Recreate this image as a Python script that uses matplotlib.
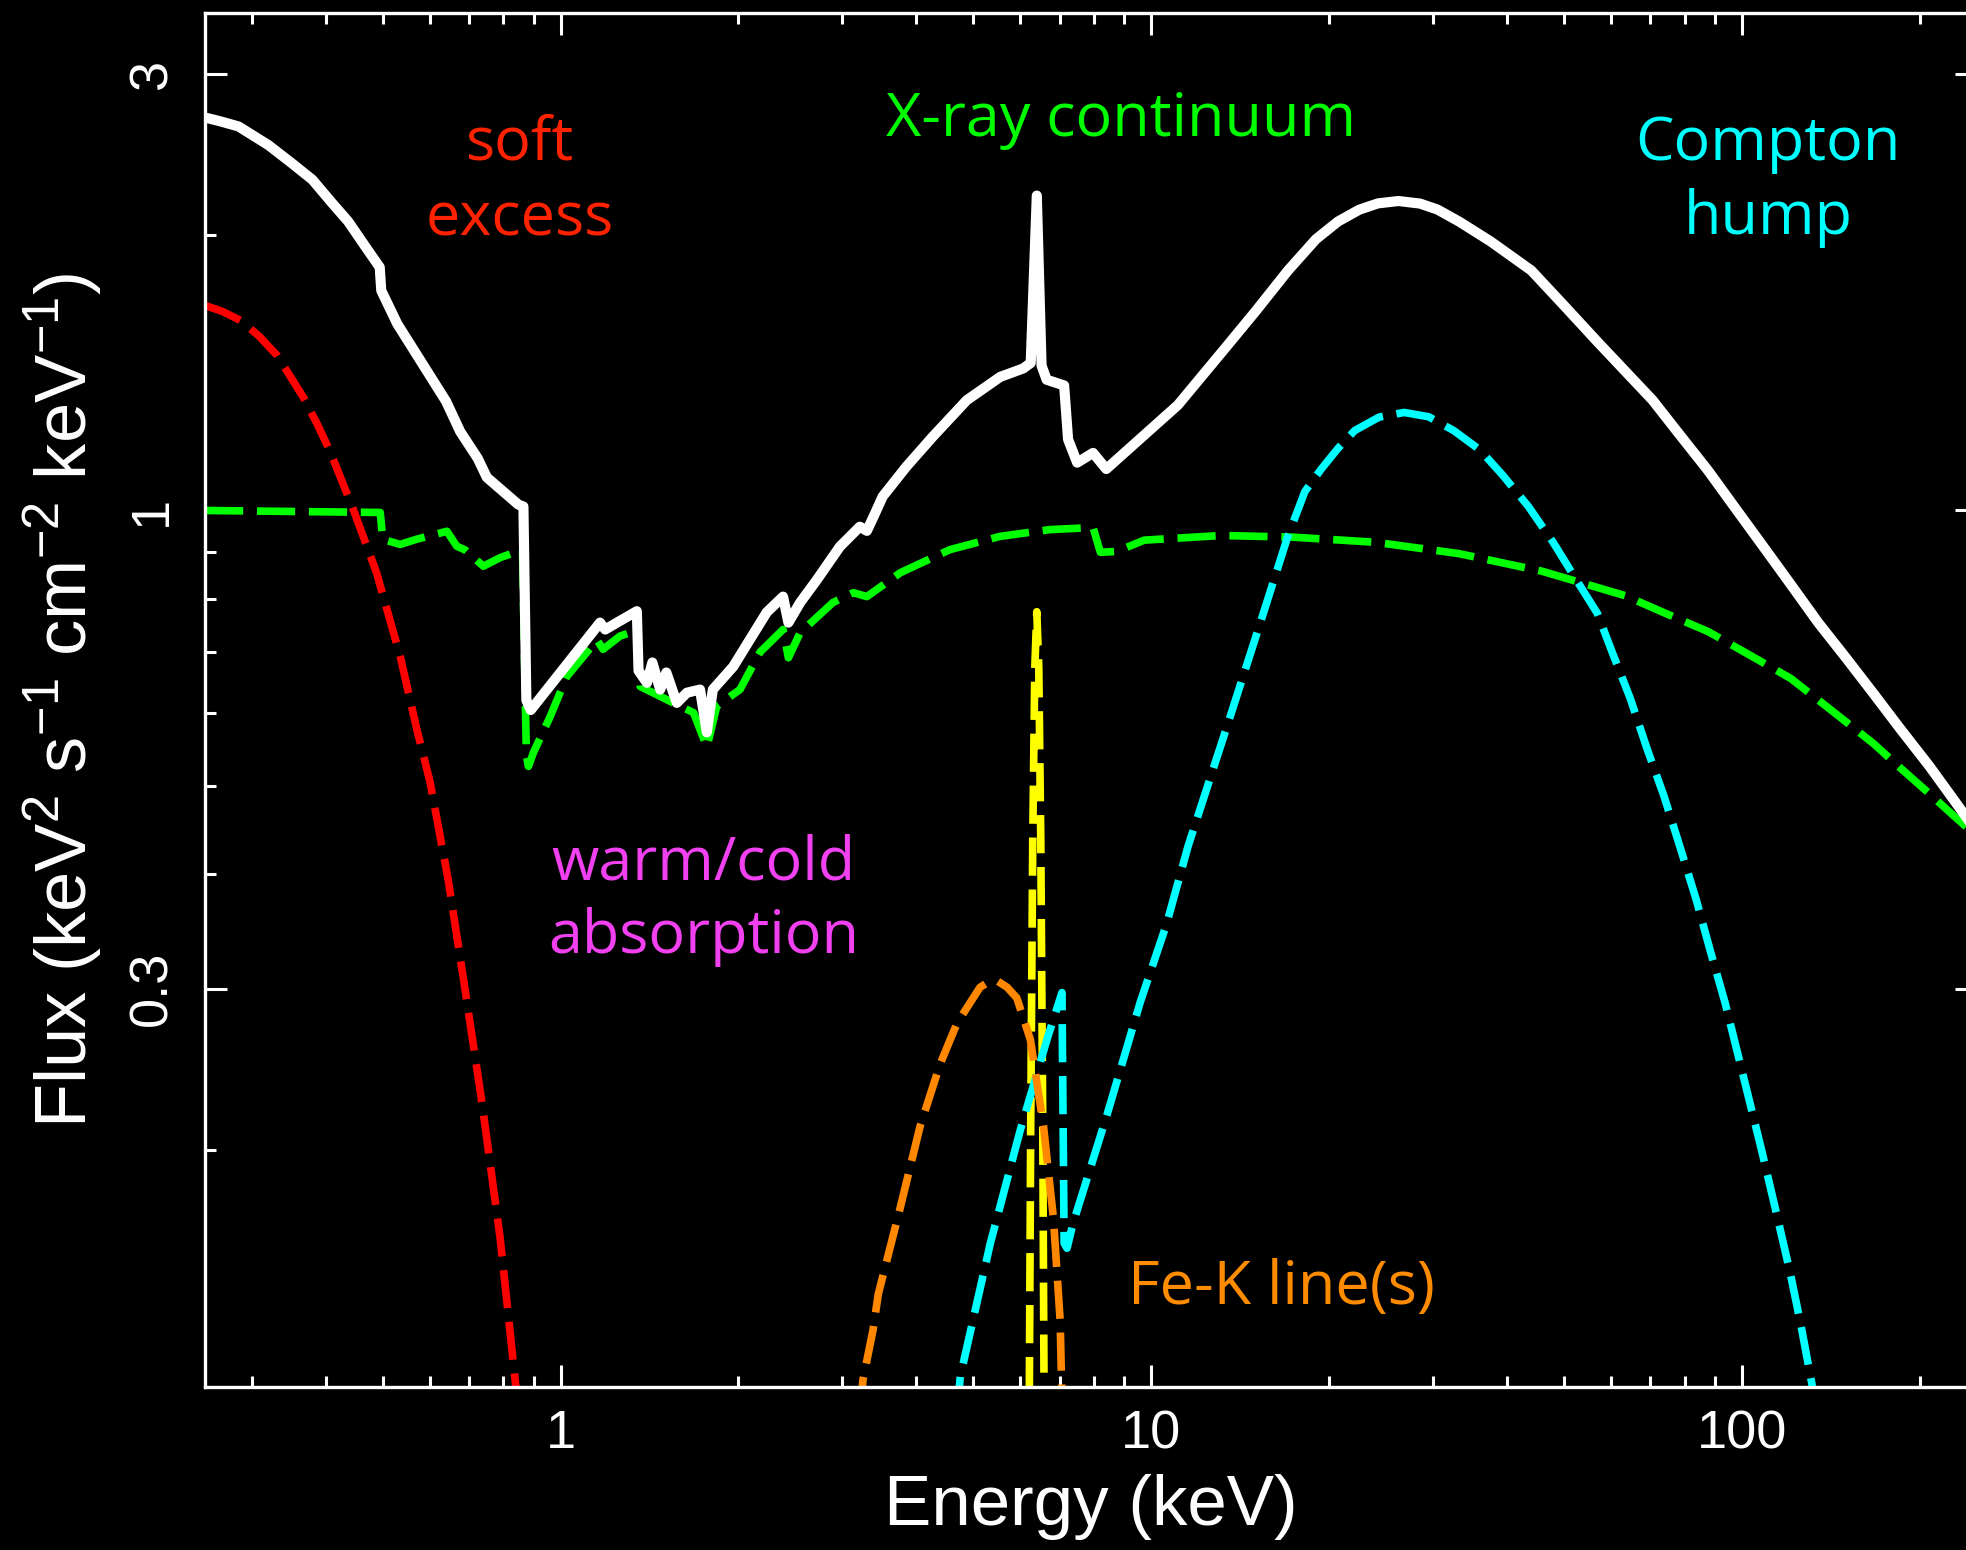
import numpy as np
import matplotlib
matplotlib.use('Agg')
import matplotlib.pyplot as plt
from matplotlib.ticker import LogLocator, NullFormatter

# total model (white)
total_e = [0.25, 0.265, 0.285, 0.30, 0.320, 0.35, 0.380, 0.41, 0.437, 0.465, 0.494, 0.497, 0.529,
           0.640, 0.676, 0.724, 0.750, 0.848, 0.865, 0.875, 0.890, 1.166, 1.19, 1.25, 1.346, 1.355,
           1.40, 1.43, 1.474, 1.51, 1.573, 1.636, 1.722, 1.768, 1.81, 1.96, 2.09, 2.234, 2.38, 2.43,
           2.544, 2.716, 2.97, 3.21, 3.30, 3.40, 3.51, 3.85, 4.27, 4.87, 5.55, 6.07, 6.25, 6.40, 6.52,
           6.65, 7.12, 7.23, 7.49, 7.97, 8.39, 11.09, 13.45, 15.0, 17.04, 19.0, 20.7, 22.5, 24.2, 26.2,
           28.5, 30.5, 33.2, 37.5, 44.0, 50.0, 56.9, 63.0, 70.6, 78.0, 87.6, 97.0, 108.7, 120.0,
           134.6, 150.0, 167.2, 185.0, 207.3, 225.0, 250.0]
total_f = [2.69, 2.665, 2.63, 2.576, 2.51, 2.40, 2.30, 2.17, 2.07, 1.952, 1.845, 1.74, 1.60,
           1.316, 1.22, 1.14, 1.087, 1.015, 1.01, 0.62, 0.605, 0.754, 0.741, 0.755, 0.776, 0.668,
           0.648, 0.682, 0.637, 0.665, 0.616, 0.632, 0.637, 0.572, 0.637, 0.675, 0.722, 0.774, 0.805, 0.754,
           0.793, 0.840, 0.913, 0.960, 0.950, 0.990, 1.036, 1.117, 1.205, 1.32, 1.40, 1.43, 1.45, 2.21, 1.44,
           1.39, 1.37, 1.196, 1.128, 1.156, 1.11, 1.304, 1.515, 1.65, 1.83, 1.98, 2.07, 2.133, 2.167, 2.18,
           2.166, 2.134, 2.07, 1.97, 1.83, 1.675, 1.53, 1.427, 1.32, 1.216, 1.106, 1.010, 0.913, 0.836,
           0.754, 0.690, 0.630, 0.578, 0.526, 0.489, 0.445]

# absorbed power-law continuum (green)
cont_e = [0.25, 0.495, 0.50, 0.535, 0.570, 0.642, 0.667, 0.69, 0.740, 0.790, 0.862, 0.875, 0.882,
          0.90, 0.960, 1.024, 1.092, 1.152, 1.18, 1.261, 1.311, 1.345, 1.364, 1.513, 1.679, 1.769,
          1.838, 2.012, 2.176, 2.38, 2.43, 2.544, 2.89, 3.13, 3.30, 3.76, 4.56, 5.55, 6.74, 7.97,
          8.2, 8.74, 9.73, 13.15, 17.4, 24.0, 33.2, 45.9, 54.0, 63.4, 74.5, 87.7, 103.0, 121.0,
          142.0, 167.0, 186.0, 207.0, 228.0, 250.0]
cont_f = [1.0, 0.995, 0.93, 0.918, 0.930, 0.949, 0.914, 0.905, 0.869, 0.888, 0.906, 0.54, 0.525,
          0.544, 0.595, 0.658, 0.692, 0.722, 0.705, 0.729, 0.735, 0.74, 0.642, 0.621, 0.601, 0.551,
          0.611, 0.637, 0.700, 0.741, 0.690, 0.735, 0.793, 0.813, 0.805, 0.855, 0.906, 0.937, 0.953, 0.958,
          0.900, 0.902, 0.928, 0.939, 0.935, 0.923, 0.897, 0.858, 0.832, 0.807, 0.771, 0.737, 0.695, 0.655,
          0.604, 0.556, 0.522, 0.491, 0.464, 0.44]

# soft excess (red)
soft_e = [0.25, 0.268, 0.288, 0.309, 0.331, 0.349, 0.367, 0.387, 0.407, 0.445, 0.488, 0.535, 0.571,
          0.601, 0.645, 0.686, 0.736, 0.790, 0.840, 0.86]
soft_f = [1.676, 1.65, 1.612, 1.55, 1.478, 1.40, 1.329, 1.244, 1.161, 1.005, 0.855, 0.693, 0.576,
          0.505, 0.395, 0.305, 0.225, 0.160, 0.110, 0.095]

# broad Fe-K line (orange)
broad_e = [3.15, 3.25, 3.38, 3.45, 3.76, 4.06, 4.39, 4.69, 5.13, 5.30, 5.48, 5.70, 5.92, 6.24, 6.57,
           6.83, 7.01, 7.10]
broad_f = [0.09, 0.112, 0.127, 0.139, 0.173, 0.212, 0.248, 0.275, 0.301, 0.305, 0.306, 0.301, 0.293,
           0.264, 0.212, 0.168, 0.130, 0.09]

# narrow Fe-K line (yellow)
narrow_e = [6.15, 6.20, 6.25, 6.30, 6.35, 6.40, 6.45, 6.50, 6.55, 6.60, 6.65]
narrow_f = [0.021, 0.078, 0.213, 0.436, 0.671, 0.775, 0.671, 0.436, 0.213, 0.078, 0.021]

# reflection / Compton hump (cyan)
refl_e = [4.6, 4.75, 5.34, 6.0, 6.66, 7.06, 7.12, 7.2, 7.37, 8.41, 9.58, 10.6, 11.55, 13.45,
          15.3, 17.0, 18.2, 19.4, 20.7, 22.1, 24.3, 26.8, 29.5, 32.5, 36.0, 39.4, 43.5, 47.9, 52.0,
          56.9, 60.5, 64.7, 69.0, 73.8, 78.6, 83.7, 88.5, 93.7, 100.0, 107.8, 114.0, 120.7, 126.0,
          131.3, 135.0]
refl_f = [0.09, 0.113, 0.158, 0.210, 0.264, 0.297, 0.158, 0.156, 0.166, 0.218, 0.29, 0.352, 0.430,
          0.582, 0.754, 0.934, 1.049, 1.11, 1.169, 1.223, 1.265, 1.28, 1.266, 1.223, 1.165, 1.092,
          1.01, 0.923, 0.847, 0.772, 0.696, 0.623, 0.550, 0.487, 0.428, 0.375, 0.329, 0.289, 0.244,
          0.2005, 0.172, 0.1466, 0.128, 0.111, 0.10]

xticks = [1, 10, 100]
xticklabels = ['1', '10', '100']
yticks = [0.3, 1, 3]
yticklabels = ['0.3', '1', '3']

# annotation text (label, colour, x px, baseline y px)
notes = [('soft', '#ff2200', 520, 160), ('excess', '#ff2200', 520, 235),
         ('X-ray continuum', '#00ff00', 1121, 136),
         ('Compton', '#00ffff', 1768, 160), ('hump', '#00ffff', 1768, 234),
         ('warm/cold', '#f040f0', 703, 880), ('absorption', '#f040f0', 704, 953),
         ('Fe-K line(s)', '#ff8c00', 1282, 1304)]

plt.rcParams['font.family'] = ['Liberation Sans', 'DejaVu Sans']
plt.rcParams['mathtext.fontset'] = 'custom'
plt.rcParams['mathtext.rm'] = 'Liberation Sans'
plt.rcParams['mathtext.it'] = 'Liberation Sans:italic'

W, H = 1966, 1550
fig = plt.figure(figsize=(W / 100, H / 100), dpi=100, facecolor='black')
ax = fig.add_axes([205 / W, 1 - 1387 / H, (1977 - 205) / W, (1387 - 13) / H])
ax.set_facecolor('black')
ax.set_xscale('log')
ax.set_yscale('log')

dash = (5, 1.8)
ax.plot(cont_e, cont_f, color='#00ff00', lw=5.5, dashes=dash)
ax.plot(soft_e, soft_f, color='#ff0000', lw=5.5, dashes=dash)
ax.plot(narrow_e, narrow_f, color='#ffff00', lw=5.5, dashes=dash)
ax.plot(refl_e, refl_f, color='#00ffff', lw=5.5, dashes=dash)
ax.plot(broad_e, broad_f, color='#ff8800', lw=5.5, dashes=dash)
ax.plot(total_e, total_f, color='white', lw=7.3, solid_joinstyle='round')

ax.set_xlim(0.25, 250)
ax.set_ylim(0.11, 3.5)

ax.set_xticks(xticks, labels=xticklabels)
ax.set_yticks(yticks, labels=yticklabels)
ax.xaxis.set_minor_locator(LogLocator(subs=np.arange(2, 10)))
ax.yaxis.set_minor_locator(LogLocator(subs=np.arange(2, 10)))
ax.xaxis.set_minor_formatter(NullFormatter())
ax.yaxis.set_minor_formatter(NullFormatter())

ax.tick_params(which='both', direction='in', top=True, right=True, colors='white', width=2.2)
ax.tick_params(which='major', length=16)
ax.tick_params(which='minor', length=8)
ax.tick_params(axis='x', which='major', labelsize=39, pad=16)
ax.tick_params(axis='y', which='major', labelsize=39, pad=20, labelrotation=90)
for lab in ax.get_yticklabels():
    lab.set_va('center')

for s in ax.spines.values():
    s.set_color('white')
    s.set_linewidth(2.4)

ax.set_xlabel('Energy (keV)', color='white', fontsize=51, labelpad=11)
ax.set_ylabel('Flux (keV$^{2}$ s$^{-1}$ cm$^{-2}$ keV$^{-1}$)', color='white', fontsize=52, labelpad=17)

for txt, col, px, py in notes:
    fig.text(px / W, 1 - py / H, txt, color=col, fontsize=44, ha='center', va='baseline',
             family=['Open Sans', 'DejaVu Sans'])

fig.savefig('out.png', dpi=100, facecolor='black')
